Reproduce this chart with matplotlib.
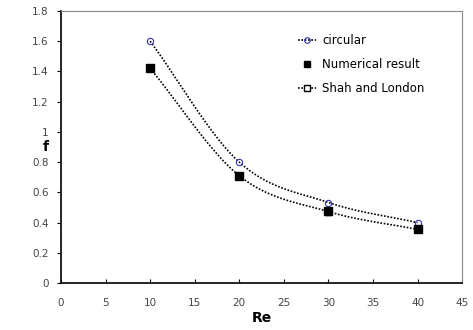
import numpy as np
import matplotlib
matplotlib.use("Agg")
import matplotlib.pyplot as plt

# data
re_vals = [10, 20, 30, 40]
f_circular = [1.60, 0.80, 0.533, 0.40]
f_numerical = [1.42, 0.71, 0.475, 0.355]
f_shah = [1.42, 0.71, 0.473, 0.355]


def smooth(x, y, n=40):
	# Catmull-Rom style smoothing, like a spreadsheet "smoothed line"
	x = np.asarray(x, float)
	y = np.asarray(y, float)
	px = np.concatenate([[2*x[0]-x[1]], x, [2*x[-1]-x[-2]]])
	py = np.concatenate([[2*y[0]-y[1]], y, [2*y[-1]-y[-2]]])
	xs, ys = [], []
	t = np.linspace(0, 1, n)
	for i in range(1, len(px)-2):
		for arr, out in ((px, xs), (py, ys)):
			p0, p1, p2, p3 = arr[i-1], arr[i], arr[i+1], arr[i+2]
			out.extend(0.5*((2*p1) + (-p0+p2)*t + (2*p0-5*p1+4*p2-p3)*t**2 + (-p0+3*p1-3*p2+p3)*t**3))
	return xs, ys


fig = plt.figure(figsize=(4.73, 3.30), dpi=100)
ax = fig.add_axes([0.129, 0.142, 0.848, 0.825])

ls = (0, (1, 1))
sx, sy = smooth(re_vals, f_circular)
ax.plot(sx, sy, color="black", lw=1.2, linestyle=ls)
sx, sy = smooth(re_vals, f_shah)
ax.plot(sx, sy, color="black", lw=1.2, linestyle=ls)

ax.plot(re_vals, f_shah, linestyle="none", marker="s", ms=5, mfc="white", mec="black", mew=1)
ax.plot(re_vals, f_circular, linestyle="none", marker="o", ms=4.5, mfc="none", mec="#3333aa", mew=0.8)
ax.plot(re_vals, f_numerical, linestyle="none", marker="s", ms=6, mfc="black", mec="black")

# legend handles
h1, = ax.plot([], [], color="black", lw=1.2, linestyle=ls, marker="o", ms=4, mfc="none", mec="#3333aa", mew=0.8)
h2, = ax.plot([], [], linestyle="none", marker="s", ms=5, mfc="black", mec="black")
h3, = ax.plot([], [], color="black", lw=1.2, linestyle=ls, marker="s", ms=4, mfc="white", mec="black")
ax.legend([h1, h2, h3], ["circular", "Numerical result", "Shah and London"],
	loc="upper left", bbox_to_anchor=(0.565, 0.955), frameon=False,
	fontsize=8.5, handlelength=1.5, labelspacing=0.95, handletextpad=0.5)

ax.set_xlim(0, 45)
ax.set_ylim(0, 1.8)
ax.set_xticks(np.arange(0, 46, 5))
ax.set_yticks(np.arange(0, 1.81, 0.2))
ax.set_yticklabels(["0", "0.2", "0.4", "0.6", "0.8", "1", "1.2", "1.4", "1.6", "1.8"])
ax.tick_params(axis="x", direction="in", length=3, labelsize=7.5, labelcolor="#444444", pad=11)
ax.tick_params(axis="y", direction="out", length=3, labelsize=7.5, labelcolor="#444444", pad=6)

ax.spines["left"].set_linewidth(1.2)
ax.spines["bottom"].set_linewidth(1.2)
for s in ("top", "right"):
	ax.spines[s].set_color("#888888")
	ax.spines[s].set_linewidth(0.8)

ax.set_xlabel("Re", fontsize=10, fontweight="bold", labelpad=2)
ax.set_ylabel("f", fontsize=10, fontweight="bold", rotation=0, va="center")
ax.yaxis.set_label_coords(-0.037, 0.5)

fig.savefig("out.png", dpi=100)
